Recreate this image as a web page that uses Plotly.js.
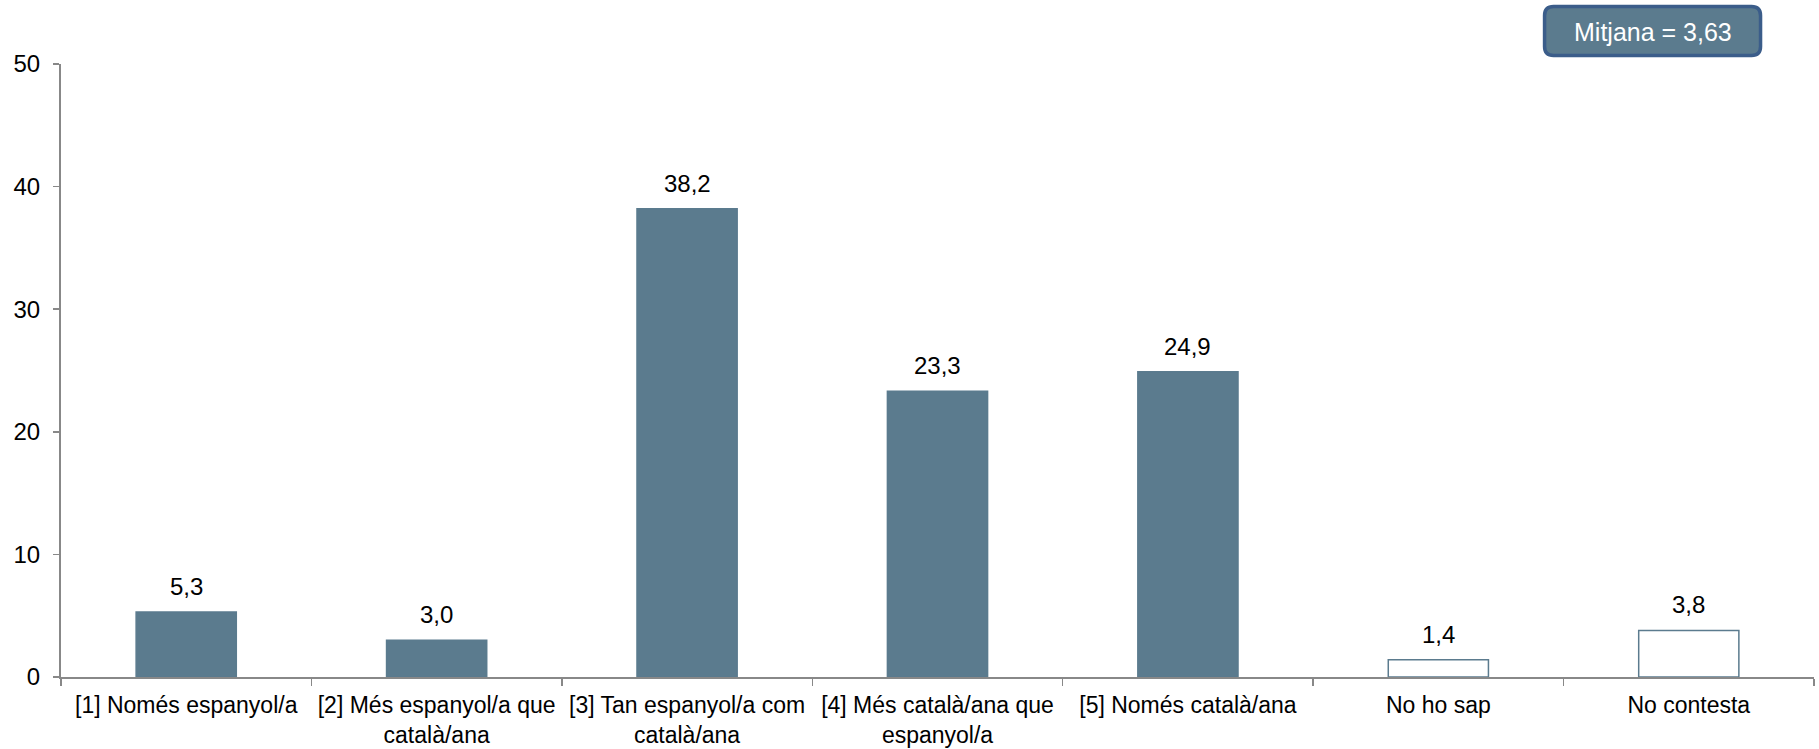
<!DOCTYPE html>
<html><head><meta charset="utf-8">
<script src="https://cdn.plot.ly/plotly-3.0.1.min.js"></script>
<style>html,body{margin:0;padding:0;background:#fff}</style>
</head><body>
<div id="chart" style="width:1819px;height:749px"></div>
<script>
const categories = ["[1] Només espanyol/a", "[2] Més espanyol/a que<br>català/ana", "[3] Tan espanyol/a com<br>català/ana", "[4] Més català/ana que<br>espanyol/a", "[5] Només català/ana", "No ho sap", "No contesta"];
const values = [5.3, 3.0, 38.2, 23.3, 24.9, 1.4, 3.8];
const fillColors = ["#5b7b8e", "#5b7b8e", "#5b7b8e", "#5b7b8e", "#5b7b8e", "#ffffff", "#ffffff"];
const meanLabel = "Mitjana = 3,63";

const trace = {
  type: "bar",
  x: categories,
  y: values,
  width: 0.4,
  marker: {color: fillColors, line: {color: "#5b7b8e", width: 1.5}},
  hoverinfo: "skip"
};

const fmt = v => v.toFixed(1).replace(".", ",");
const valueLabels = categories.map((c, i) => ({
  x: c, y: values[i], xref: "x", yref: "y",
  text: fmt(values[i]), showarrow: false,
  xanchor: "center", yanchor: "bottom", yshift: 10,
  font: {family: "Liberation Sans, Arial, sans-serif", size: 24, color: "#000"}
}));

// rounded box (paper coords)
const bx0 = 0.8463, bx1 = 0.9695, by0 = 1.0139, by1 = 1.0938;
const rx = 9 / 1753, ry = 9 / 613;
const boxPath = `M ${bx0 + rx} ${by0} L ${bx1 - rx} ${by0} Q ${bx1} ${by0} ${bx1} ${by0 + ry} L ${bx1} ${by1 - ry} Q ${bx1} ${by1} ${bx1 - rx} ${by1} L ${bx0 + rx} ${by1} Q ${bx0} ${by1} ${bx0} ${by1 - ry} L ${bx0} ${by0 + ry} Q ${bx0} ${by0} ${bx0 + rx} ${by0} Z`;

const layout = {
  separators: ",.",
  width: 1819, height: 749,
  margin: {l: 61, r: 5, t: 64, b: 72},
  plot_bgcolor: "#fff", paper_bgcolor: "#fff",
  showlegend: false,
  bargap: 0.6,
  xaxis: {
    type: "category",
    showline: true, linecolor: "#888", linewidth: 2,
    ticks: "outside", tickson: "boundaries", ticklen: 7, tickcolor: "#888", tickwidth: 1.5,
    tickangle: 0, ticklabelstandoff: 6,
    tickfont: {family: "Liberation Sans, Arial, sans-serif", size: 23, color: "#000"},
    showgrid: false
  },
  yaxis: {
    range: [0, 50], dtick: 10,
    showline: true, linecolor: "#888", linewidth: 2,
    ticks: "outside", ticklen: 6, tickcolor: "#888", tickwidth: 1.5,
    ticklabelstandoff: 8,
    tickfont: {family: "Liberation Sans, Arial, sans-serif", size: 24, color: "#000"},
    showgrid: false, zeroline: false
  },
  shapes: [{
    type: "path", xref: "paper", yref: "paper", path: boxPath,
    fillcolor: "#5b7b8e", line: {color: "#3b5d8a", width: 3.5}
  }],
  annotations: valueLabels.concat([{
    text: meanLabel, xref: "paper", yref: "paper",
    x: (bx0 + bx1) / 2, y: (by0 + by1) / 2 - 0.002, xanchor: "center", yanchor: "middle",
    showarrow: false,
    font: {family: "Liberation Sans, Arial, sans-serif", size: 25, color: "#fff"}
  }])
};

Plotly.newPlot("chart", [trace], layout, {staticPlot: true, displayModeBar: false});
</script>
</body></html>
